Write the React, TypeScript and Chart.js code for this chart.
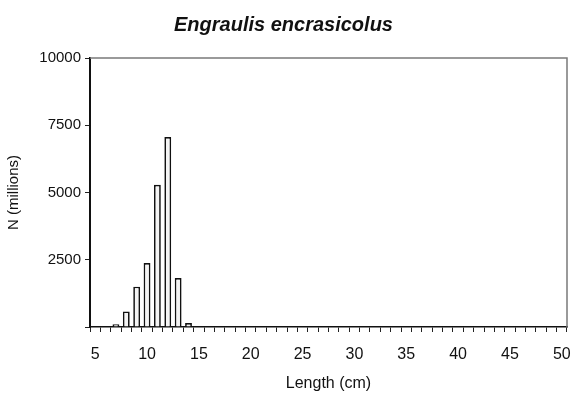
import React, { useEffect, useRef } from "react";
import { Chart, registerables } from "chart.js";

Chart.register(...registerables);

const TITLE = "Engraulis encrasicolus";
const X_TITLE = "Length (cm)";
const Y_TITLE = "N (millions)";

const lengths: string[] = [
  "5", "6", "7", "8", "9", "10", "11", "12", "13", "14",
  "15", "16", "17", "18", "19", "20", "21", "22", "23", "24",
  "25", "26", "27", "28", "29", "30", "31", "32", "33", "34",
  "35", "36", "37", "38", "39", "40", "41", "42", "43", "44",
  "45", "46", "47", "48", "49", "50",
];

const counts: number[] = [
  0, 0, 100, 580, 1500, 2380, 5290, 7060, 1820, 150,
  0, 0, 0, 0, 0, 0, 0, 0, 0, 0,
  0, 0, 0, 0, 0, 0, 0, 0, 0, 0,
  0, 0, 0, 0, 0, 0, 0, 0, 0, 0,
  0, 0, 0, 0, 0, 0,
];

const yTicks: number[] = [2500, 5000, 7500, 10000];

const FONT = "'Liberation Sans', Arial, Helvetica, sans-serif";

const frame = {
  id: "frame",
  afterDatasetsDraw(chart: any) {
    const { ctx, chartArea } = chart;
    ctx.save();
    ctx.strokeStyle = "#7a7a7a";
    ctx.lineWidth = 1.5;
    ctx.beginPath();
    ctx.moveTo(chartArea.left, chartArea.top);
    ctx.lineTo(chartArea.right, chartArea.top);
    ctx.lineTo(chartArea.right, chartArea.bottom);
    ctx.stroke();
    ctx.restore();
  },
};

export default function App() {
  const ref = useRef<HTMLCanvasElement | null>(null);

  useEffect(() => {
    if (!ref.current) return;
    const chart = new Chart(ref.current, {
      type: "bar",
      data: {
        labels: lengths,
        datasets: [
          {
            data: counts,
            backgroundColor: "#f4f4f4",
            borderColor: "#111",
            borderWidth: 1.7,
            barPercentage: 0.66,
            categoryPercentage: 1,
          },
        ],
      },
      options: {
        responsive: false,
        animation: false,
        devicePixelRatio: 1,
        layout: { padding: { top: 0, right: 9, left: 0, bottom: 0 } },
        plugins: {
          legend: { display: false },
          tooltip: { enabled: false },
          title: {
            display: true,
            text: TITLE,
            color: "#111",
            font: { family: FONT, size: 20, weight: "bold", style: "italic" },
            padding: { top: 13, bottom: 21 },
          },
        },
        scales: {
          x: {
            type: "category",
            grid: {
              display: true,
              offset: true,
              drawOnChartArea: false,
              drawTicks: true,
              tickLength: 5,
              color: "#222",
            },
            border: { display: true, color: "#111", width: 1.5 },
            ticks: {
              autoSkip: false,
              maxRotation: 0,
              padding: 13,
              color: "#111",
              font: { family: FONT, size: 16 },
              callback: (_v: any, i: number) =>
                Number(lengths[i]) % 5 === 0 ? lengths[i] : "",
            },
            title: {
              display: true,
              text: X_TITLE,
              color: "#111",
              font: { family: FONT, size: 16 },
              padding: { top: 4, bottom: 1 },
            },
            afterFit: (s: any) => {
              s.height = 67;
              s.paddingLeft = 0;
              s.paddingRight = 0;
            },
          },
          y: {
            min: 0,
            max: 10000,
            afterBuildTicks: (s: any) => {
              s.ticks = [0, ...yTicks].map((v) => ({ value: v }));
            },
            grid: {
              display: true,
              drawOnChartArea: false,
              drawTicks: true,
              tickLength: 5,
              color: "#222",
            },
            border: { display: true, color: "#111", width: 2 },
            ticks: {
              padding: 4,
              color: "#111",
              font: { family: FONT, size: 15 },
              callback: (v: any) => (v === 0 ? "" : String(v)),
            },
            title: {
              display: true,
              text: Y_TITLE,
              color: "#111",
              font: { family: FONT, size: 15 },
              padding: { top: 5, bottom: 0 },
            },
            afterFit: (s: any) => {
              s.width = 90;
              s.paddingTop = 0;
              s.paddingBottom = 0;
            },
          },
        },
      },
      plugins: [frame],
    });
    return () => chart.destroy();
  }, []);

  return (
    <div style={{ position: "absolute", left: 0, top: 0, width: 576, height: 394, background: "#fff" }}>
      <canvas ref={ref} width={576} height={394} style={{ display: "block" }} />
    </div>
  );
}
